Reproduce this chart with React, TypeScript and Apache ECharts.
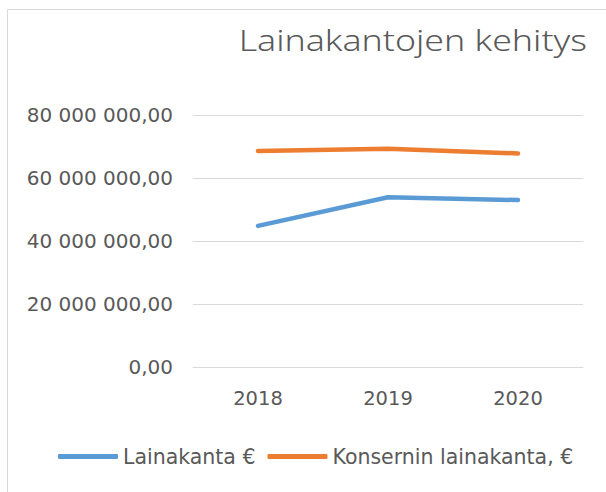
import React, { useEffect, useRef } from "react";
import * as echarts from "echarts";

const categories = ["2018", "2019", "2020"];
const lainakanta = [44800000, 53900000, 53000000];
const konserni = [68600000, 69300000, 67800000];
const seriesNames = ["Lainakanta €", "Konsernin lainakanta, €"];
const titleText = "Lainakantojen kehitys";

function fmt(v: number): string {
  const [i, d] = v.toFixed(2).split(".");
  return i.replace(/\B(?=(\d{3})+(?!\d))/g, " ") + "," + d;
}

export default function App() {
  const ref = useRef<HTMLDivElement>(null);
  useEffect(() => {
    if (!ref.current) return;
    const chart = echarts.init(ref.current, null, { renderer: "svg" });
    const font = "'DejaVu Sans', 'Noto Sans', sans-serif";
    const titleFont = "'Noto Sans', 'Open Sans', sans-serif";
    chart.setOption({
      animation: false,
      backgroundColor: "#ffffff",
      graphic: [
        {
          type: "rect",
          shape: { x: 7.5, y: 9.5, width: 800, height: 700 },
          style: { fill: "none", stroke: "#d9d9d9", lineWidth: 1 },
          silent: true,
        },
        {
          type: "text",
          x: 587,
          y: 40,
          scaleX: 1.23,
          style: {
            text: titleText,
            fontFamily: titleFont,
            fontSize: 29,
            fontWeight: 300,
            fill: "#595959",
            textAlign: "right",
            textVerticalAlign: "middle",
          },
          silent: true,
        },
      ],
      grid: { left: 193, right: 23, top: 115, bottom: 125 },
      legend: {
        left: 53,
        top: 441,
        itemWidth: 60,
        itemHeight: 5,
        itemGap: 12,
        icon: "roundRect",
        textStyle: { fontFamily: font, fontSize: 20.5, color: "#595959" },
        data: seriesNames,
      },
      xAxis: {
        type: "category",
        data: categories,
        boundaryGap: true,
        axisLine: { lineStyle: { color: "#d9d9d9" } },
        axisTick: { show: false },
        axisLabel: { fontFamily: font, fontSize: 19.5, color: "#595959", margin: 21 },
      },
      yAxis: {
        type: "value",
        min: 0,
        max: 80000000,
        interval: 20000000,
        axisLine: { show: false },
        axisTick: { show: false },
        splitLine: { lineStyle: { color: "#d9d9d9", width: 1 } },
        axisLabel: {
          fontFamily: font,
          fontSize: 20,
          color: "#595959",
          margin: 20,
          padding: [0, 0, 5, 0],
          formatter: (v: number) => fmt(v),
        },
      },
      series: [
        {
          name: seriesNames[0],
          type: "line",
          data: lainakanta,
          showSymbol: false,
          symbol: "none",
          itemStyle: { color: "#5B9BD5" },
          lineStyle: { color: "#5B9BD5", width: 4.5, cap: "round", join: "round" },
        },
        {
          name: seriesNames[1],
          type: "line",
          data: konserni,
          showSymbol: false,
          symbol: "none",
          itemStyle: { color: "#ED7D31" },
          lineStyle: { color: "#ED7D31", width: 4.5, cap: "round", join: "round" },
        },
      ],
    });
    return () => chart.dispose();
  }, []);
  return (
    <div
      ref={ref}
      style={{ position: "fixed", left: 0, top: 0, width: 606, height: 492 }}
    />
  );
}
